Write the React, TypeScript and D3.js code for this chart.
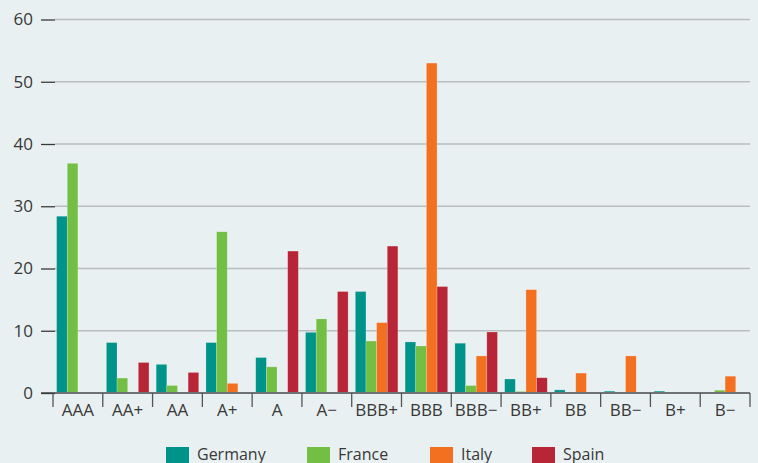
import { axisLeft, scaleBand, scaleLinear, select } from 'd3';
import { useEffect, useRef } from 'react';

const categories = ['AAA', 'AA+', 'AA', 'A+', 'A', 'A−', 'BBB+', 'BBB', 'BBB−', 'BB+', 'BB', 'BB−', 'B+', 'B−'];
const seriesNames = ['Germany', 'France', 'Italy', 'Spain'];
const germany = [28.4, 8.1, 4.6, 8.1, 5.7, 9.75, 16.3, 8.2, 8.0, 2.25, 0.5, 0.3, 0.3, 0];
const france = [36.9, 2.4, 1.2, 25.9, 4.2, 11.9, 8.35, 7.55, 1.2, 0.25, 0, 0, 0, 0.45];
const italy = [0, 0, 0, 1.55, 0, 0, 11.3, 53.0, 5.95, 16.6, 3.2, 5.95, 0, 2.7];
const spain = [0, 4.9, 3.3, 0, 22.8, 16.3, 23.6, 17.1, 9.8, 2.45, 0, 0, 0, 0];
const yTicks = [0, 10, 20, 30, 40, 50, 60];

const colors = ['#00938a', '#72bf44', '#f37021', '#b72536'];
const font = '"Open Sans", "Noto Sans", sans-serif';

export default function App() {
  const width = 758;
  const height = 463;
  const margin = { top: 19.5, bottom: 70, left: 53, right: 8 };
  const gy = useRef<SVGGElement>(null);

  const series = [germany, france, italy, spain];

  const x = scaleBand<string>()
    .domain(categories)
    .range([margin.left, width - margin.right])
    .paddingInner(0);

  const inner = scaleBand<string>()
    .domain(seriesNames)
    .range([3.6, x.bandwidth() - 3.6])
    .padding(0);

  const y = scaleLinear()
    .domain([0, 60])
    .range([height - margin.bottom, margin.top]);

  useEffect(() => {
    const g = select(gy.current);
    g.call(axisLeft(y).tickValues(yTicks).tickSize(14).tickPadding(8));
    g.select('.domain').remove();
    g.selectAll('line').attr('stroke', '#3a3a3a').attr('stroke-width', 1.3);
    g.selectAll('text')
      .attr('fill', '#383838')
      .style('font-size', '17px')
      .style('font-family', font);
  }, []);

  const baseY = y(0);

  return (
    <svg
      width={width}
      height={height}
      style={{ position: 'fixed', left: 0, top: 0, background: '#e8f0f1' }}>
      {/* gridlines */}
      <g>
        {yTicks
          .filter((t) => t > 0)
          .map((t) => (
            <line
              key={t}
              x1={55}
              x2={width - margin.right}
              y1={y(t)}
              y2={y(t)}
              stroke='#b9bdbf'
              strokeWidth={1.4}
            />
          ))}
      </g>
      {/* bars */}
      <g>
        {categories.map((c, i) => (
          <g key={c} transform={`translate(${x(c)},0)`}>
            {series.map((s, j) =>
              s[i] > 0 ? (
                <rect
                  key={j}
                  x={inner(seriesNames[j])}
                  y={y(s[i])}
                  width={inner.bandwidth()}
                  height={baseY - y(s[i])}
                  fill={colors[j]}
                  stroke='rgba(255,255,255,0.35)'
                  strokeWidth={0.6}
                />
              ) : null,
            )}
          </g>
        ))}
      </g>
      {/* baseline */}
      <line x1={41} x2={width - margin.right} y1={baseY} y2={baseY} stroke='#6f7375' strokeWidth={1.8} />
      <g ref={gy} transform={`translate(55,0)`}></g>
      {/* category ticks & labels */}
      <g>
        {categories.map((c) => (
          <line key={c} x1={x(c)} x2={x(c)} y1={baseY} y2={baseY + 14} stroke='#555' strokeWidth={1.3} />
        ))}
        <line
          x1={x.range()[1]}
          x2={x.range()[1]}
          y1={baseY}
          y2={baseY + 14}
          stroke='#555'
          strokeWidth={1.3}
        />
        {categories.map((c) => (
          <text
            key={c}
            x={(x(c) ?? 0) + x.bandwidth() / 2}
            y={baseY + 23}
            textAnchor='middle'
            fill='#383838'
            fontSize={17}
            fontFamily={font}>
            {c}
          </text>
        ))}
      </g>
      {/* legend */}
      <g>
        {seriesNames.map((name, j) => {
          const lx = [166, 307, 430, 532][j];
          return (
            <g key={name} transform={`translate(${lx},447)`}>
              <rect width={23} height={20} fill={colors[j]} />
              <text x={31} y={12.5} fill='#383838' fontSize={16} fontFamily={font}>
                {name}
              </text>
            </g>
          );
        })}
      </g>
    </svg>
  );
}
